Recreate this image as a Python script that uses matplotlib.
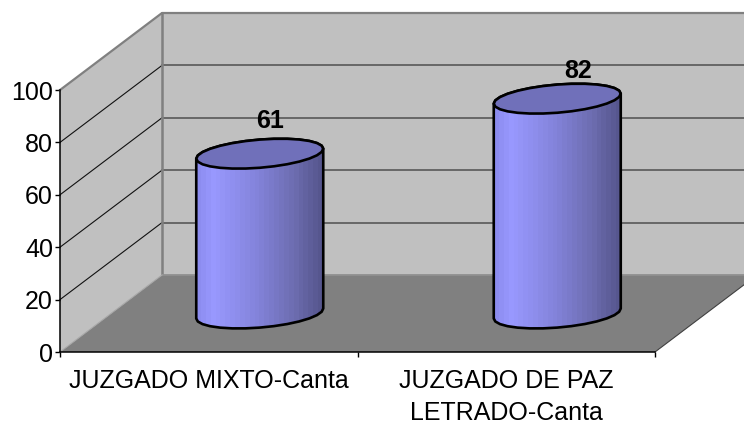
import numpy as np
import matplotlib.pyplot as plt
from matplotlib.colors import LinearSegmentedColormap
from matplotlib.patches import Polygon

categories = ["JUZGADO MIXTO-Canta", "JUZGADO DE PAZ\nLETRADO-Canta"]
values = [61, 82]
y_ticks = [0, 20, 40, 60, 80, 100]

plt.rcParams['font.family'] = ['Liberation Sans', 'DejaVu Sans']

W, H = 744, 426
fig = plt.figure(figsize=(W / 100, H / 100), dpi=100, facecolor='white')
ax = fig.add_axes([60 / W, (H - 352) / H, 595 / W, 262 / H])
ax.patch.set_visible(False)

# depth of the fake 3d box, in data units
dx = 102 / 297.5
dy = 77 / 2.62
x0, x1 = -0.5, 1.5
y_top = 100

wall = '#c0c0c0'
floor = '#808080'
edge = '#808080'


def add_poly(pts, **kw):
    p = Polygon(pts, closed=True, clip_on=False, **kw)
    ax.add_patch(p)
    return p


# side wall, back wall, floor
add_poly([(x0, 0), (x0 + dx, dy), (x0 + dx, y_top + dy), (x0, y_top)], fc=wall, ec='none', zorder=1)
add_poly([(x0 + dx, dy), (x1 + dx, dy), (x1 + dx, y_top + dy), (x0 + dx, y_top + dy)], fc=wall, ec='none', zorder=1)
add_poly([(x0, 0), (x1, 0), (x1 + dx, dy), (x0 + dx, dy)], fc=floor, ec='none', zorder=2)

# grid lines
for t in y_ticks[1:-1]:
    ax.plot([x0, x0 + dx], [t, t + dy], color='#111111', lw=0.8, zorder=3, clip_on=False)
    ax.plot([x0 + dx, x1 + dx], [t + dy, t + dy], color='#606060', lw=1.3, zorder=3, clip_on=False)

# box edges
ax.plot([x0, x0 + dx, x1 + dx], [y_top, y_top + dy, y_top + dy], color=edge, lw=1.6, zorder=3, clip_on=False)
ax.plot([x0 + dx, x0 + dx], [dy, y_top + dy], color=edge, lw=1.8, zorder=3, clip_on=False)
ax.plot([x0 + dx, x1 + dx], [dy, dy], color='#909090', lw=1.3, zorder=3, clip_on=False)
ax.plot([x0, x0 + dx], [0, dy], color='#a8a8a8', lw=0.8, zorder=3, clip_on=False)
ax.plot([x1, x1 + dx], [0, dy], color='#404040', lw=0.8, zorder=3, clip_on=False)

# cylinders
a = 63.5 / 297.5
b = 14.1 / 2.62
s = 5 / 2.62
shade = LinearSegmentedColormap.from_list('cyl', [
    (0.0, (0.55, 0.55, 0.94)),
    (0.12, (0.60, 0.60, 1.00)),
    (0.5, (0.51, 0.51, 0.85)),
    (0.8, (0.42, 0.42, 0.68)),
    (1.0, (0.34, 0.34, 0.56)),
])
strips = np.linspace(0, 1, 26).reshape(1, -1)
label_offsets = [(10, 33), (21, 28)]

for i, v in enumerate(values):
    cx = i + dx / 2
    base = dy / 2
    t = np.linspace(0, 2 * np.pi, 29)
    ex = a * np.cos(t)
    ey = b * np.sin(t) + s * np.cos(t)
    # lower half of the ellipse, right to left
    low = np.linspace(np.pi, 2 * np.pi, 15)
    lx = a * np.cos(low)
    ly = b * np.sin(low) + s * np.cos(low)
    up = np.linspace(0, np.pi, 15)
    ux = a * np.cos(up)
    uy = b * np.sin(up) + s * np.cos(up)
    outline = np.vstack([
        np.column_stack([cx + lx, base + ly]),
        np.column_stack([cx + ux, base + v + uy]),
    ])
    body = add_poly(outline, fc='none', ec='black', lw=1.9, zorder=5, joinstyle='round')
    img = ax.imshow(strips, cmap=shade, extent=[cx - a, cx + a, base - 10, base + v + 10],
                    aspect='auto', interpolation='nearest', zorder=4)
    img.set_clip_path(Polygon(outline, closed=True, transform=ax.transData))
    add_poly(np.column_stack([cx + ex, base + v + ey]), fc='#7070ba', ec='black', lw=1.9, zorder=6,
             joinstyle='round')
    ox, oy = label_offsets[i]
    ax.annotate(str(v), (cx, base + v), xytext=(ox * 0.72, oy * 0.72), textcoords='offset points',
                ha='center', va='center', fontsize=18, fontweight='bold', color='black',
                zorder=7, annotation_clip=False)

ax.set_xlim(x0, x1)
ax.set_ylim(0, y_top)

for name in ['top', 'right']:
    ax.spines[name].set_visible(False)
for name in ['left', 'bottom']:
    ax.spines[name].set_linewidth(1.1)
    ax.spines[name].set_zorder(8)

ax.set_yticks(y_ticks)
ax.tick_params(axis='y', labelsize=18, length=3.5, width=1, pad=1.5)
ax.set_xticks([x0, 0.5, x1])
ax.set_xticklabels([])
ax.tick_params(axis='x', which='major', length=3.5, width=1)
ax.set_xticks(range(len(categories)), labels=categories, minor=True, linespacing=1.45)
ax.tick_params(axis='x', which='minor', length=0, labelsize=18, pad=12)

fig.savefig('out.png', dpi=100)
